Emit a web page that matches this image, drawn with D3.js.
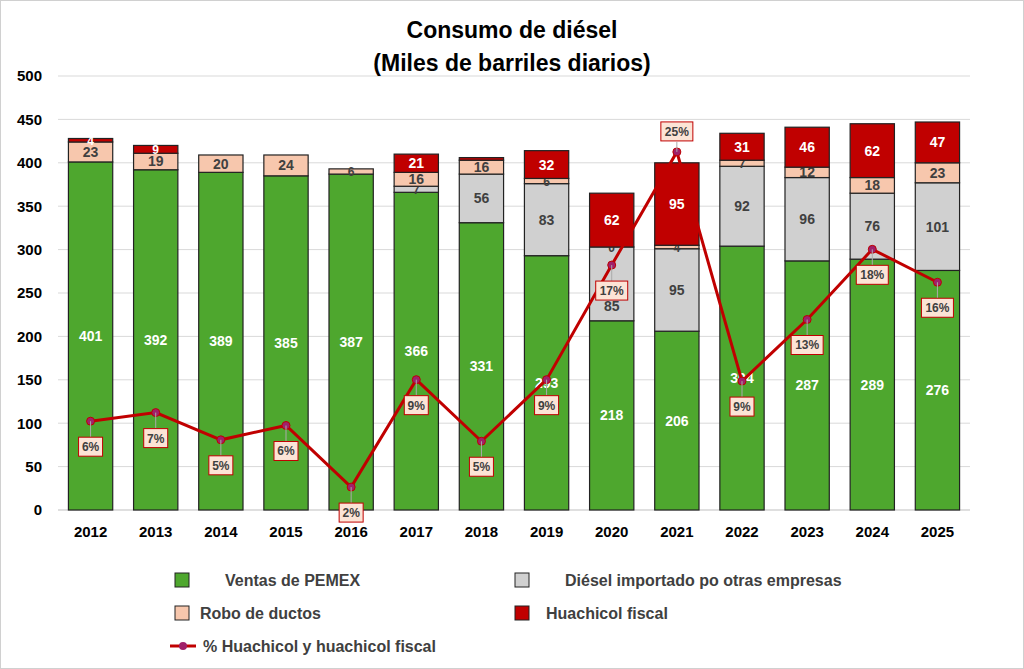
<!DOCTYPE html>
<html><head><meta charset="utf-8">
<script src="https://cdn.jsdelivr.net/npm/d3@7"></script>
<style>body{margin:0;background:#fff;font-family:"Liberation Sans",Arial,sans-serif}</style>
</head><body><svg id="c" width="1024" height="669"></svg>
<script>
const years=["2012","2013","2014","2015","2016","2017","2018","2019","2020","2021","2022","2023","2024","2025"];
const pemex=[401,392,389,385,387,366,331,293,218,206,304,287,289,276];
const importado=[0,0,0,0,0,7,56,83,85,95,92,96,76,101];
const robo=[23,19,20,24,6,16,16,6,0,4,7,12,18,23];
const fiscal=[4,9,0,0,0,21,3,32,62,95,31,46,62,47];
const pct=[6.2,6.8,4.9,5.9,1.6,9.1,4.8,9.1,17.1,25,9,13.3,18.2,15.9];
const yTicks=[0,50,100,150,200,250,300,350,400,450,500];

const svg=d3.select("#c");
svg.append("rect").attr("x",0.5).attr("y",0.5).attr("width",1023).attr("height",668).attr("fill","#fff").attr("stroke","#d0d0d0");
const L=58,R=970,T=76,B=510;
const x=d3.scaleBand().domain(years).range([L,R]).paddingInner(0.32).paddingOuter(0.16);
const y=d3.scaleLinear().domain([0,500]).range([B,T]);
const y2=d3.scaleLinear().domain([0,30.3]).range([B,T]);

svg.append("g").selectAll("line").data(yTicks.slice(1)).join("line")
 .attr("x1",L).attr("x2",R).attr("y1",d=>y(d)).attr("y2",d=>y(d)).attr("stroke","#d9d9d9");
svg.append("line").attr("x1",L).attr("x2",R).attr("y1",B).attr("y2",B).attr("stroke","#bfbfbf");

const yAx=svg.append("g").attr("transform",`translate(${L-6},0)`).call(d3.axisLeft(y).tickValues(yTicks).tickSize(0).tickPadding(10));
yAx.select(".domain").remove();
yAx.selectAll("text").attr("font-size",15).attr("font-weight","bold").attr("fill","#000").attr("font-family","Liberation Sans, Arial");
const xAx=svg.append("g").attr("transform",`translate(0,${B})`).call(d3.axisBottom(x).tickSize(0).tickPadding(16));
xAx.select(".domain").remove();
xAx.selectAll("text").attr("font-size",15).attr("font-weight","bold").attr("fill","#000").attr("font-family","Liberation Sans, Arial");

const series=[
 {vals:pemex,fill:"#4ea72e",tc:"#fff"},
 {vals:importado,fill:"#d0d0d0",tc:"#404040"},
 {vals:robo,fill:"#f7c7ad",tc:"#404040"},
 {vals:fiscal,fill:"#c00000",tc:"#fff"}];
const g=svg.append("g");
years.forEach((yr,i)=>{
 let base=0;
 series.forEach((s,si)=>{
  const v=s.vals[i];
  if(v>0){
   g.append("rect").attr("x",x(yr)).attr("width",x.bandwidth()).attr("y",y(base+v)).attr("height",y(base)-y(base+v))
    .attr("fill",s.fill).attr("stroke","#222").attr("stroke-width",1.2);
  }
  const show=(v>0&&!(i===6&&si===3))||(v===0&&si===2&&i===8);
  if(show){
   let ty=y(base+v/2)+5;
   if(i===8&&si===1) ty=y(base)-10;
   g.append("text").attr("x",x(yr)+x.bandwidth()/2).attr("y",ty).attr("text-anchor","middle")
    .attr("font-size",v<10?12:14).attr("font-weight","bold").attr("fill",s.tc).text(v);
  }
  base+=v;
 });
});

const cx=d=>x(d)+x.bandwidth()/2;
const line=d3.line().x((d,i)=>cx(years[i])).y(d=>y2(d));
svg.append("path").datum(pct).attr("d",line).attr("fill","none").attr("stroke","#c00000").attr("stroke-width",3);
svg.append("g").selectAll("circle").data(pct).join("circle").attr("cx",(d,i)=>cx(years[i])).attr("cy",d=>y2(d)).attr("r",4)
 .attr("fill","#a0206a").attr("stroke","#c00000");
pct.forEach((p,i)=>{
 const above=i===9;
 const ly=y2(p)+(above?-20:26);
 const lg=svg.append("g");
 lg.append("line").attr("x1",cx(years[i])).attr("x2",cx(years[i])).attr("y1",y2(p)).attr("y2",ly+(above?10:-10)).attr("stroke","#aaa");
 const t=Math.round(p)+"%";
 const w=t.length*8+8;
 lg.append("rect").attr("x",cx(years[i])-w/2).attr("y",ly-10).attr("width",w).attr("height",19).attr("fill","#fce4d6").attr("stroke","#c00000").attr("stroke-width",1);
 lg.append("text").attr("x",cx(years[i])).attr("y",ly+4).attr("text-anchor","middle").attr("font-size",12).attr("font-weight","bold").attr("fill","#404040").text(t);
});

svg.append("text").attr("x",512).attr("y",38).attr("text-anchor","middle").attr("font-size",23).attr("font-weight","bold").text("Consumo de diésel");
svg.append("text").attr("x",512).attr("y",71).attr("text-anchor","middle").attr("font-size",23).attr("font-weight","bold").text("(Miles de barriles diarios)");

const leg=[
 {x:175,y:580,fill:"#4ea72e",t:"Ventas de PEMEX",tx:225},
 {x:515,y:580,fill:"#d0d0d0",t:"Diésel importado po otras empresas",tx:565},
 {x:175,y:613,fill:"#f7c7ad",t:"Robo de ductos",tx:200},
 {x:515,y:613,fill:"#c00000",t:"Huachicol fiscal",tx:546}];
leg.forEach(l=>{
 svg.append("rect").attr("x",l.x).attr("y",l.y-7).attr("width",14).attr("height",14).attr("fill",l.fill).attr("stroke","#222");
 svg.append("text").attr("x",l.tx).attr("y",l.y+6).attr("font-size",16).attr("font-weight","bold").attr("fill","#404040").text(l.t);
});
svg.append("line").attr("x1",170).attr("x2",196).attr("y1",646).attr("y2",646).attr("stroke","#c00000").attr("stroke-width",3);
svg.append("circle").attr("cx",183).attr("cy",646).attr("r",4).attr("fill","#a0206a");
svg.append("text").attr("x",203).attr("y",652).attr("font-size",16).attr("font-weight","bold").attr("fill","#404040").text("% Huachicol y huachicol  fiscal");
</script></body></html>
